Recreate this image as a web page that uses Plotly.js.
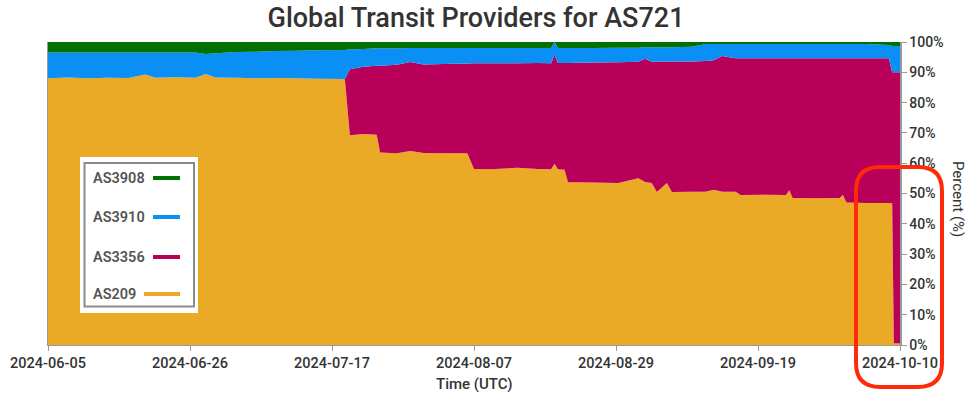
<!DOCTYPE html>
<html><head><meta charset="utf-8">
<script src="https://cdn.plot.ly/plotly-3.0.1.min.js"></script>
<style>html,body{margin:0;padding:0;background:#fff;}#chart{width:971px;height:397px;}</style>
</head><body><div id="chart"></div>
<script>
// ---- data (percent share per provider) ----
const dates = [
  '2024-06-05 00:00','2024-06-08 00:00','2024-06-11 00:00','2024-06-14 00:00','2024-06-17 00:00',
  '2024-06-19 12:00','2024-06-21 00:00','2024-06-24 00:00','2024-06-27 00:00','2024-06-28 12:00',
  '2024-06-30 00:00','2024-07-03 00:00','2024-07-06 00:00','2024-07-09 00:00','2024-07-12 00:00',
  '2024-07-15 00:00','2024-07-19 06:00','2024-07-20 00:00','2024-07-22 00:00','2024-07-24 00:00',
  '2024-07-24 12:00','2024-07-27 00:00','2024-07-29 00:00','2024-07-31 00:00','2024-08-03 00:00',
  '2024-08-06 12:00','2024-08-07 12:00','2024-08-10 00:00','2024-08-14 00:00','2024-08-17 00:00',
  '2024-08-19 00:00','2024-08-19 12:00','2024-08-20 00:00','2024-08-21 00:00','2024-08-21 12:00',
  '2024-08-25 00:00','2024-08-29 00:00','2024-09-01 00:00','2024-09-02 00:00','2024-09-03 00:00',
  '2024-09-03 18:00','2024-09-05 06:00','2024-09-06 00:00','2024-09-09 00:00','2024-09-11 00:00',
  '2024-09-12 06:00','2024-09-13 12:00','2024-09-15 12:00','2024-09-16 06:00','2024-09-20 00:00',
  '2024-09-23 00:00','2024-09-23 12:00','2024-09-24 00:00','2024-09-28 00:00','2024-10-01 00:00',
  '2024-10-01 12:00','2024-10-02 00:00','2024-10-05 00:00','2024-10-08 08:00','2024-10-08 20:00',
  '2024-10-09 02:00','2024-10-10 00:00'
];
const as209 = [
  88.0,88.3,88.0,88.2,88.1, 89.3,88.2,88.4,88.2,89.4,
  88.3,88.2,88.0,88.1,88.0, 87.9,87.8,69.2,69.6,69.4,
  63.5,63.3,64.0,63.4,63.3, 63.3,58.1,58.0,58.5,58.1,
  58.0,59.8,58.0,57.8,53.7, 53.6,53.5,55.0,53.8,53.5,
  50.5,53.5,50.5,50.6,50.6, 51.2,50.6,50.6,49.5,49.6,
  49.5,51.1,48.5,48.4,48.5, 49.5,47.0,46.9,46.9,46.8,
  0.6,0.5
];
const as3356 = [
  0,0,0,0,0, 0,0,0,0,0,
  0,0,0,0,0, 0,0,21.8,22.2,22.8,
  28.7,29.2,29.4,29.2,29.4, 29.6,34.9,35.0,34.5,35.0,
  35.0,35.9,35.1,35.3,39.4, 39.6,39.8,38.5,40.7,40.0,
  43.0,40.1,43.1,43.0,43.1, 42.8,44.8,44.0,45.1,45.0,
  45.1,43.5,46.1,46.2,46.1, 45.1,47.6,47.7,47.7,43.2,
  89.4,89.5
];
const as3910 = [
  8.5,8.2,8.5,8.3,8.4, 7.2,8.3,8.1,8.3,6.6,
  8.0,8.5,8.8,8.9,9.1, 9.4,9.6,6.6,5.9,5.7,
  5.7,5.4,4.6,5.4,5.3, 5.1,5.0,5.0,5.0,4.9,
  5.0,4.3,4.9,4.9,4.9, 4.8,4.8,4.6,3.8,4.8,
  4.8,4.7,4.7,4.8,5.6, 5.3,3.9,4.7,4.7,4.7,
  4.7,4.7,4.7,4.7,4.7, 4.7,4.7,4.7,4.4,8.7,
  8.7,8.7
];
const as3908 = [
  3.5,3.5,3.5,3.5,3.5, 3.5,3.5,3.5,3.5,4.0,
  3.7,3.3,3.2,3.0,2.9, 2.7,2.6,2.4,2.3,2.1,
  2.1,2.1,2.0,2.0,2.0, 2.0,2.0,2.0,2.0,2.0,
  2.0,0.0,2.0,2.0,2.0, 2.0,1.9,1.9,1.7,1.7,
  1.7,1.7,1.7,1.6,0.7, 0.7,0.7,0.7,0.7,0.7,
  0.7,0.7,0.7,0.7,0.7, 0.7,0.7,0.7,1.0,1.3,
  1.3,1.3
];
const seriesNames = ['AS209','AS3356','AS3910','AS3908'];
const seriesValues = [as209, as3356, as3910, as3908];
const seriesColors = ['#EAAA26','#B8005A','#0A8FF5','#007000'];
const legendOrder = ['AS3908','AS3910','AS3356','AS209'];
const xRange = ['2024-06-05','2024-10-10'];
const xTickLabels = ['2024-06-05','2024-06-26','2024-07-17','2024-08-07','2024-08-29','2024-09-19','2024-10-10'];
const yTickVals = [0,10,20,30,40,50,60,70,80,90,100];
const yTickText = yTickVals.map(v => v + '%');

// ticks evenly spaced across the axis range (as in the original)
const t0 = Date.parse(xRange[0] + 'T00:00:00Z'), t1 = Date.parse(xRange[1] + 'T00:00:00Z');
const xTickVals = xTickLabels.map((_, k) =>
  new Date(t0 + k * (t1 - t0) / (xTickLabels.length - 1)).toISOString().replace('T', ' ').slice(0, 19));

// ---- geometry helpers (pixel -> paper) ----
const L = 48, R = 900, T = 42, B = 345, W = 971, H = 397;
const px = x => (x - L) / (R - L);
const py = y => (B - y) / (B - T);

const traces = seriesNames.map((n, i) => ({
  type: 'scatter', mode: 'none', name: n, x: dates, y: seriesValues[i],
  stackgroup: 'one', fillcolor: seriesColors[i], line: {width: 0},
  hoverinfo: 'skip', showlegend: false
}));

const font = 'Roboto, "Open Sans", sans-serif';
const shapes = [];
const annotations = [];

// custom legend box
shapes.push({type:'rect', xref:'paper', yref:'paper', x0:px(80), x1:px(198), y0:py(157), y1:py(313),
  fillcolor:'#ffffff', line:{width:0}, layer:'above'});
shapes.push({type:'rect', xref:'paper', yref:'paper', x0:px(84.5), x1:px(194), y0:py(163), y1:py(306.5),
  fillcolor:'rgba(0,0,0,0)', line:{width:2, color:'#8a8a8a'}, layer:'above'});
const legendY = [178, 217, 257, 294];
const legendLineStart = [153, 153, 153, 144];
legendOrder.forEach((n, k) => {
  const ci = seriesNames.indexOf(n);
  annotations.push({xref:'paper', yref:'paper', x:px(91), y:py(legendY[k]), xanchor:'left', yanchor:'middle',
    text:n, showarrow:false, font:{family:font, size:14.5, color:'#555555', weight:600}});
  shapes.push({type:'line', xref:'paper', yref:'paper', x0:px(legendLineStart[k]), x1:px(180),
    y0:py(legendY[k]), y1:py(legendY[k]), line:{color:seriesColors[ci], width:4}, layer:'above'});
});

// red rounded highlight box
(function(){
  const x1 = 856, x2 = 942, y1 = 167, y2 = 387, r = 24;
  const P = (x, y) => px(x).toFixed(5) + ',' + py(y).toFixed(5);
  const path = 'M' + P(x1 + r, y1) + ' L' + P(x2 - r, y1) + ' Q' + P(x2, y1) + ' ' + P(x2, y1 + r) +
    ' L' + P(x2, y2 - r) + ' Q' + P(x2, y2) + ' ' + P(x2 - r, y2) +
    ' L' + P(x1 + r, y2) + ' Q' + P(x1, y2) + ' ' + P(x1, y2 - r) +
    ' L' + P(x1, y1 + r) + ' Q' + P(x1, y1) + ' ' + P(x1 + r, y1) + ' Z';
  shapes.push({type:'path', xref:'paper', yref:'paper', path:path, line:{color:'#FF2A0A', width:4},
    fillcolor:'rgba(0,0,0,0)', layer:'above'});
})();

// axis titles
annotations.push({xref:'paper', yref:'paper', x:px(474), y:py(384), xanchor:'center', yanchor:'middle',
  text:'Time (UTC)', showarrow:false, font:{family:font, size:15, color:'#333333', weight:500}});
annotations.push({xref:'paper', yref:'paper', x:px(958), y:py(199), xanchor:'center', yanchor:'middle',
  text:'Percent (%)', textangle:90, showarrow:false, font:{family:font, size:15, color:'#333333'}});

const layout = {
  width: W, height: H,
  margin: {l: L, r: W - R, t: T, b: H - B, pad: 0},
  paper_bgcolor: '#ffffff', plot_bgcolor: '#ffffff',
  showlegend: false,
  title: {text: 'Global Transit Providers for AS721', x: 476 / W, xanchor: 'center', xref: 'container',
    y: 1 - 18 / H, yanchor: 'middle', yref: 'container',
    font: {family: font, size: 27, color: '#333333', weight: 500}},
  xaxis: {type: 'date', range: xRange, tickmode: 'array', tickvals: xTickVals, ticktext: xTickLabels,
    showgrid: false, zeroline: false, showline: true, linecolor: '#9a9a9a', linewidth: 1,
    ticks: 'outside', ticklen: 5, tickcolor: '#9a9a9a', automargin: false,
    tickfont: {family: font, size: 14.5, color: '#333333', weight: 500}},
  yaxis: {side: 'right', range: [0, 100], tickvals: yTickVals, ticktext: yTickText,
    showgrid: false, zeroline: false, showline: true, mirror: true, linecolor: '#9a9a9a', linewidth: 1.5,
    ticks: 'outside', ticklen: 5, tickcolor: '#9a9a9a', automargin: false,
    tickfont: {family: font, size: 14, color: '#333333', weight: 500}},
  shapes: shapes,
  annotations: annotations
};

Plotly.newPlot('chart', traces, layout, {displayModeBar: false, staticPlot: true});
</script>
</body></html>
